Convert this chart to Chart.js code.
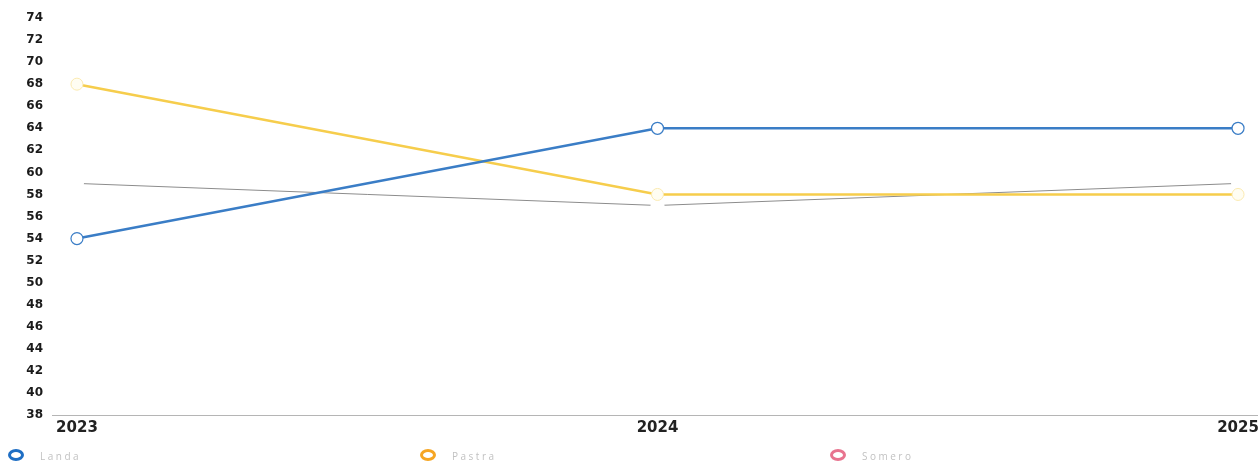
<!DOCTYPE html>
<html>
<head>
<meta charset="utf-8">
<script src="https://cdn.jsdelivr.net/npm/chart.js@4/dist/chart.umd.min.js"></script>
<style>
  html, body { margin: 0; padding: 0; background: #fff; overflow: hidden; }
  #wrap { position: relative; width: 1275px; height: 461px; }
  #legend { position: absolute; left: 0; top: 449px; width: 1258px; height: 20px; font-family: 'Open Sans', sans-serif; }
  .item { position: absolute; top: 0; display: flex; align-items: flex-start; }
  .ring { width: 10px; height: 6px; border-radius: 50%; border: 3.5px solid; margin-right: 16px; }
  .txt { font-size: 10px; line-height: 11px; margin-top: 2px; color: #c2c2c2; letter-spacing: 2.5px; }
</style>
</head>
<body>
<div id="wrap">
  <canvas id="chart" width="1275" height="461"></canvas>
  <div id="legend"></div>
</div>
<script>
// years on the x axis
const years = [2023, 2024, 2025];
const seriesNames = ['Landa', 'Pastra', 'Somero'];
const landa = [54, 64, 64];
const pastra = [68, 58, 58];
const somero = [59, 57, 59];
const yTicks = { min: 38, max: 74, step: 2 };

const lineColors = ['#3a7dc6', '#f6cd4c', '#8c8c8c'];
const legendColors = ['#1e6ec4', '#f6a623', '#e8748f'];
const legendX = [8, 420, 830];

function toPoints(vals) {
    return vals.map((v, i) => ({ x: years[i], y: v }));
}

Chart.defaults.font.family = 'DejaVu Sans';

const ctx = document.getElementById('chart').getContext('2d');
const myChart = new Chart(ctx, {
    type: 'line',
    data: {
        datasets: [
            {
                label: seriesNames[0],
                data: toPoints(landa),
                borderColor: lineColors[0],
                borderWidth: 2.5,
                pointRadius: 6,
                pointBackgroundColor: '#fff',
                pointBorderColor: lineColors[0],
                pointBorderWidth: 1.2,
                tension: 0
            },
            {
                label: seriesNames[1],
                data: toPoints(pastra),
                borderColor: lineColors[1],
                borderWidth: 2.5,
                pointRadius: 6,
                pointBackgroundColor: '#fffdf2',
                pointBorderColor: '#fbeab0',
                pointBorderWidth: 1,
                tension: 0
            },
            {
                label: seriesNames[2],
                data: toPoints(somero),
                borderColor: lineColors[2],
                borderWidth: 1,
                pointRadius: 7,
                pointBackgroundColor: '#fff',
                pointBorderColor: 'rgba(255,255,255,0)',
                pointBorderWidth: 0,
                tension: 0
            }
        ]
    },
    options: {
        responsive: false,
        animation: false,
        layout: {
            padding: { left: 0, right: 12, top: 18, bottom: 0 }
        },
        scales: {
            x: {
                type: 'linear',
                min: years[0] - 0.043,
                max: years[years.length - 1] + 0.043,
                afterFit: (scale) => { scale.height = 46; },
                afterBuildTicks: (scale) => { scale.ticks = years.map(v => ({ value: v })); },
                grid: { display: false },
                border: { display: true, color: '#b5b5b5', width: 1, dash: [6, 1] },
                ticks: {
                    padding: -4,
                    color: '#222',
                    font: { size: 15, weight: '700' },
                    callback: (value) => String(value)
                }
            },
            y: {
                min: yTicks.min,
                max: yTicks.max,
                afterFit: (scale) => { scale.width = 52; },
                grid: { display: false },
                border: { display: false },
                ticks: {
                    stepSize: yTicks.step,
                    padding: 1,
                    color: '#1a1a1a',
                    font: { size: 12, weight: '700' }
                }
            }
        },
        plugins: {
            legend: { display: false },
            tooltip: { enabled: false }
        }
    }
});

const legendDiv = document.getElementById('legend');
seriesNames.forEach((name, i) => {
    const item = document.createElement('div');
    item.className = 'item';
    item.style.left = legendX[i] + 'px';
    const ring = document.createElement('span');
    ring.className = 'ring';
    ring.style.borderColor = legendColors[i];
    const txt = document.createElement('span');
    txt.className = 'txt';
    txt.textContent = name;
    item.appendChild(ring);
    item.appendChild(txt);
    legendDiv.appendChild(item);
});
</script>
</body>
</html>
